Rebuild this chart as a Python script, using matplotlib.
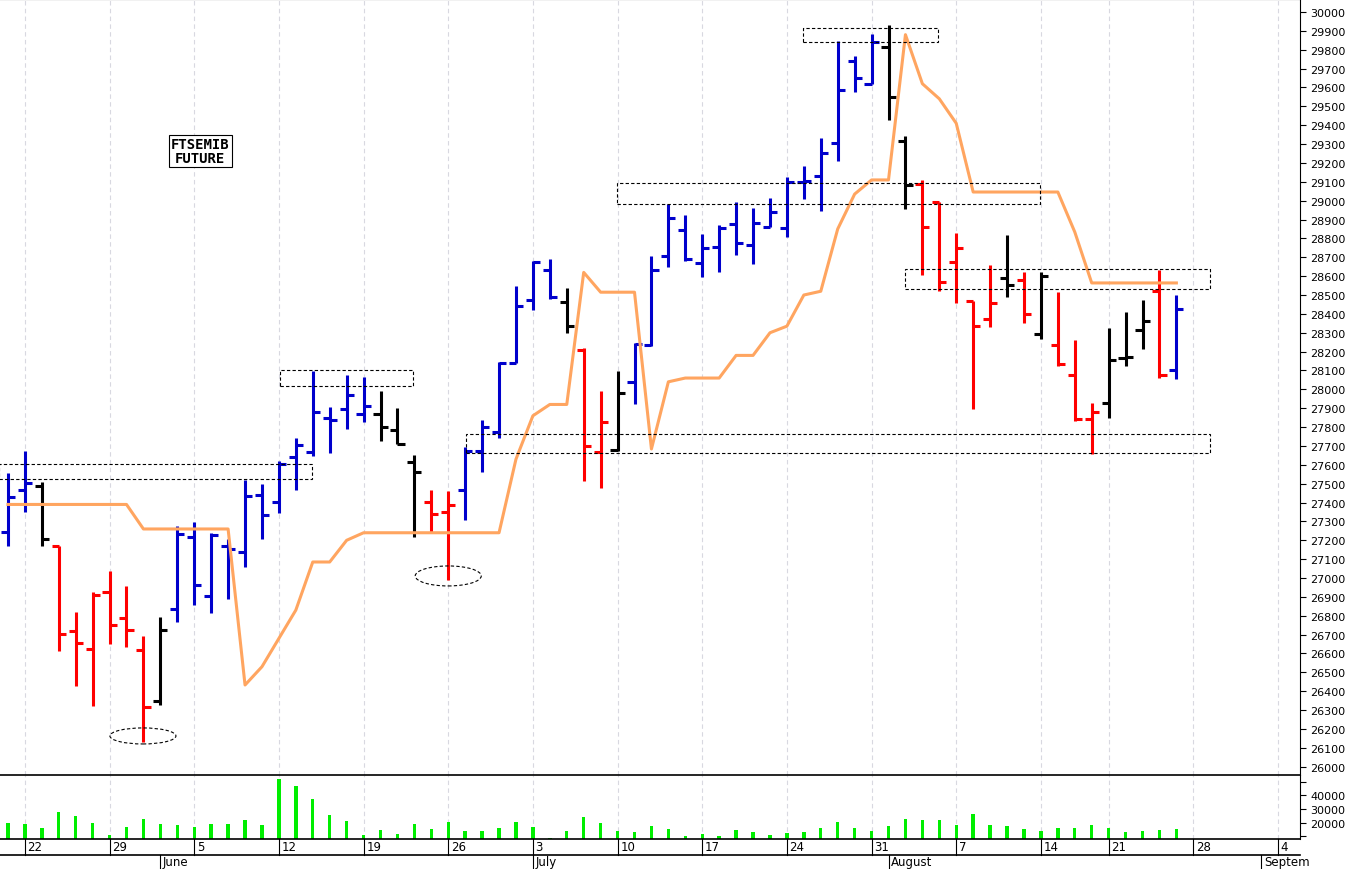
import numpy as np
import pandas as pd
import matplotlib
matplotlib.use("Agg")
import matplotlib.pyplot as plt
from matplotlib.patches import Rectangle, Ellipse

# trading days (Aug 15 holiday skipped), data until Aug 25
days = pd.bdate_range("2017-05-19", "2017-09-08")
days = days[days != pd.Timestamp("2017-08-15")]

opens = [27245, 27467, 27488, 27170, 26719, 26624, 26926, 26788, 26619, 26348,
         26836, 27217, 26905, 27170, 27138, 27440, 27403, 27641, 27668, 27848,
         27896, 27869, 27869, 27785, 27615, 27403, 27350, 27467, 27673, 27774,
         28140, 28474, 28633, 28463, 28209, 27668, 27679, 28039, 28235, 28707,
         28845, 28670, 28754, 28876, 28765, 28860, 28855, 29099, 29131, 29306,
         29740, 29618, 29814, 29316, 29088, 28993, 28675, 28468, 28373, 28590,
         28580, 28293, 28235, 28076, 27843, 27928, 28166, 28315, 28521, 28103]
highs = [27557, 27673, 27509, 27170, 26820, 26926, 27037, 26958, 26693, 26793,
         27276, 27297, 27239, 27207, 27520, 27498, 27620, 27742, 28097, 27906,
         28076, 28065, 27991, 27901, 27652, 27467, 27461, 27694, 27838, 28145,
         28548, 28680, 28691, 28537, 28219, 27991, 28097, 28246, 28707, 28982,
         28924, 28823, 28871, 28993, 28961, 29014, 29125, 29184, 29332, 29846,
         29767, 29883, 29931, 29343, 29110, 28993, 28829, 28468, 28659, 28818,
         28622, 28622, 28516, 28262, 27928, 28325, 28410, 28474, 28633, 28500]
lows = [27170, 27350, 27170, 26613, 26428, 26322, 26650, 26634, 26131, 26327,
        26767, 26857, 26815, 26889, 27058, 27207, 27345, 27467, 27647, 27663,
        27790, 27827, 27726, 27710, 27217, 27244, 26990, 27308, 27562, 27742,
        28140, 28421, 28479, 28299, 27514, 27477, 27673, 27922, 28230, 28648,
        28680, 28595, 28622, 28712, 28664, 28860, 28807, 29009, 28945, 29210,
        29576, 29618, 29428, 28956, 28606, 28521, 28458, 27896, 28330, 28489,
        28352, 28267, 28124, 27832, 27657, 27848, 28124, 28214, 28060, 28055]
closes = [27430, 27504, 27207, 26703, 26656, 26910, 26751, 26725, 26316, 26725,
          27233, 26963, 27228, 27154, 27435, 27334, 27604, 27705, 27880, 27838,
          27970, 27912, 27800, 27710, 27562, 27339, 27387, 27673, 27800, 28140,
          28442, 28675, 28489, 28336, 27700, 27827, 27981, 28240, 28633, 28908,
          28691, 28749, 28855, 28776, 28882, 28940, 29099, 29105, 29253, 29587,
          29650, 29841, 29550, 29083, 28860, 28569, 28749, 28336, 28458, 28553,
          28399, 28601, 28134, 27843, 27880, 28156, 28171, 28362, 28076, 28426]
bar_color = list("bbk" + "r" * 6 + "k" + "b" * 12 + "kkk" + "rr" + "b" * 6 + "k" + "rr" + "k"
                 + "b" * 15 + "kk" + "r" * 5 + "k" + "r" + "k" + "rrr" + "kkk" + "r" + "b")
line_vals = [27390] * 8 + [27260] * 6 + [26433, 26530, 26680, 26830, 27085, 27085, 27200] \
    + [27240] * 9 + [27630, 27860, 27920, 27920, 28620, 28515, 28515, 28515, 27684, 28040,
                     28060, 28060, 28060, 28180, 28180, 28300, 28335, 28500, 28520, 28850,
                     29035, 29110, 29110, 29880, 29620, 29540, 29410] + [29046] * 6 \
    + [28834] + [28564] * 6
volume = [20100, 18900, 16200, 27500, 24600, 20100, 11000, 16900, 22400, 18900,
          18100, 16900, 18900, 18900, 21600, 18100, 52200, 47000, 37200, 25600,
          21100, 11300, 14700, 12000, 18700, 15700, 20400, 13700, 14200, 16400,
          20400, 16900, 8500, 13900, 23800, 19600, 13900, 13500, 17600, 15000,
          10400, 11400, 10400, 14400, 13100, 11100, 12600, 12900, 16300, 20500,
          15800, 13600, 17300, 22700, 22000, 22000, 18200, 26400, 18200, 17300,
          15100, 13600, 16300, 16000, 18200, 16300, 12900, 13600, 14400, 15300]

# dashed boxes: (idx0, idx1, price_low, price_high)
boxes = [(-0.5, 17.96, 27525, 27604), (16.07, 23.9, 28018, 28103),
         (27.05, 71.0, 27663, 27763), (35.97, 60.96, 28982, 29094),
         (46.96, 54.9, 29841, 29915), (52.98, 71.0, 28532, 28638)]
ellipses = [(7.97, 26163, 3.9, 85), (26.0, 27011, 3.9, 106)]

n = len(opens)
x = np.arange(n)
cmap = {"b": "#0000cc", "r": "#ff0000", "k": "#000000"}
W, H = 1352, 870
fig = plt.figure(figsize=(W / 100, H / 100), dpi=100)
ax = fig.add_axes([0, (H - 776) / H, 1300 / W, 776 / H])
axv = fig.add_axes([0, (H - 840) / H, 1300 / W, 64 / H])
xlim = (-0.47, 76.3)

mondays = [i for i, d in enumerate(days) if d.weekday() == 0]
for a in (ax, axv):
    a.set_xlim(*xlim)
    for m in mondays:
        a.axvline(m, color="#d8d8e0", lw=0.8, ls=(0, (4, 3)), zorder=0)
    a.yaxis.tick_right()
    a.tick_params(axis="y", labelsize=8, length=4, direction="out")
    a.set_xticks([])
    a.spines["left"].set_visible(False)

tk = 0.42
for i in x:
    c = cmap[bar_color[i]]
    ax.plot([i, i], [lows[i], highs[i]], color=c, lw=2.2, solid_capstyle="butt")
    ax.plot([i - tk, i], [opens[i], opens[i]], color=c, lw=2.2, solid_capstyle="butt")
    ax.plot([i, i + tk], [closes[i], closes[i]], color=c, lw=2.2, solid_capstyle="butt")
ax.plot(x, line_vals, color="#ffa560", lw=2.2, zorder=3)

for x0, x1, p0, p1 in boxes:
    ax.add_patch(Rectangle((x0, p0), x1 - x0, p1 - p0, fill=False, ec="black",
                           lw=0.8, ls=(0, (3, 2)), zorder=4))
for cx, cy, w, h in ellipses:
    ax.add_patch(Ellipse((cx, cy), w, h, fill=False, ec="black", lw=0.8,
                         ls=(0, (3, 2)), zorder=4))

ax.set_ylim(25956, 30069)
ax.set_yticks(np.arange(26000, 30001, 100))
ax.spines["bottom"].set_visible(False)
ax.text(11.35, 29265, "FTSEMIB\nFUTURE", ha="center", va="center", fontsize=10,
        fontweight="bold", family="DejaVu Sans Mono", linespacing=1.0,
        bbox=dict(boxstyle="square,pad=0.15", fc="white", ec="black", lw=0.8))

axv.bar(x, volume, width=0.2, color="#00ee00", bottom=0)
axv.set_ylim(8000, 55000)
axv.set_yticks([10000, 20000, 30000, 40000, 50000])
axv.set_yticklabels(["", "20000", "30000", "40000", ""])
axv.spines["bottom"].set_linewidth(1.2)
axv.spines["top"].set_linewidth(1.2)

# date band below volume panel
row1 = (H - 856) / H
row0 = (H - 840) / H
to_fig = lambda i: (i - xlim[0]) / (xlim[1] - xlim[0]) * 1300 / W
fig.add_artist(plt.Line2D([0, 1300 / W], [row1, row1], color="black", lw=1.2))
for m in mondays:
    fx = to_fig(m)
    fig.add_artist(plt.Line2D([fx, fx], [row1, row0], color="black", lw=0.8))
    fig.text(fx + 0.002, (row0 + row1) / 2, str(days[m].day), fontsize=8.5, va="center")
for name, d in [("June", "2017-06-01"), ("July", "2017-07-03"),
                ("August", "2017-08-01"), ("Septem", "2017-09-01")]:
    i = list(days).index(pd.Timestamp(d))
    fx = to_fig(i)
    fig.add_artist(plt.Line2D([fx, fx], [0, row1], color="black", lw=0.8))
    fig.text(fx + 0.002, row1 / 2, name, fontsize=8.5, va="center")

fig.savefig("out.png", dpi=100)
